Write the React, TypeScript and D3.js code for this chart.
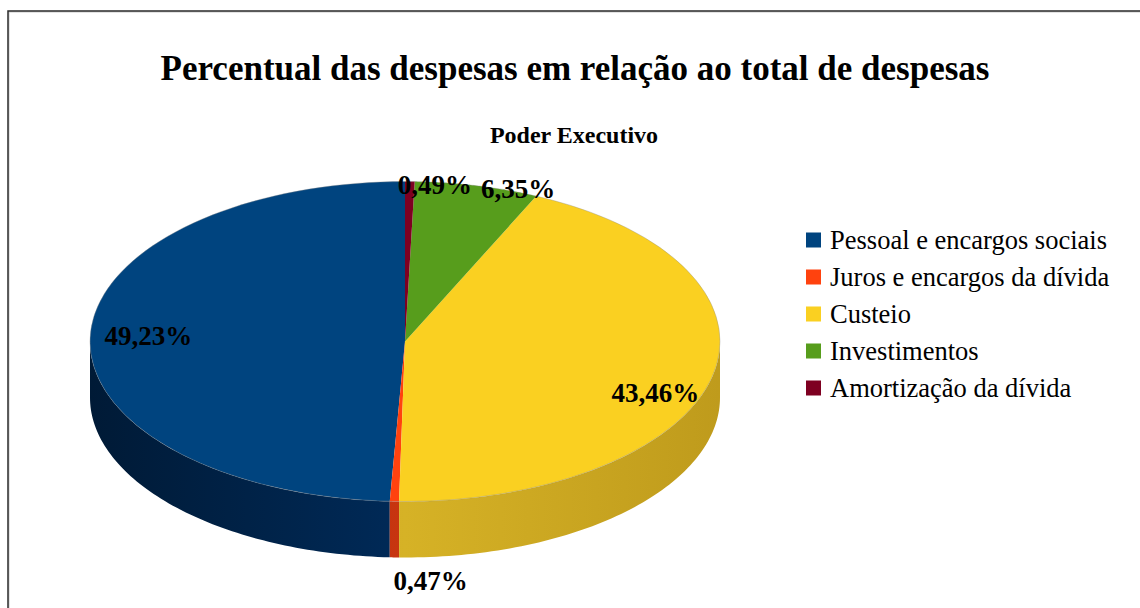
import React from "react";
import * as d3 from "d3";

const categories = [
  "Pessoal e encargos sociais",
  "Juros e encargos da dívida",
  "Custeio",
  "Investimentos",
  "Amortização da dívida",
];
const values = [49.23, 0.47, 43.46, 6.35, 0.49];
const labels = ["49,23%", "0,47%", "43,46%", "6,35%", "0,49%"];
const topColors = ["#00447f", "#ff420e", "#fad021", "#579d1c", "#7e0021"];
const sideDark = ["#001a36", "#a02808", "#bf9b1c", "#3a6a12", "#4e0014"];
const sideLight = ["#002a58", "#c83510", "#d6b226", "#4a8418", "#62001a"];

const W = 1140;
const H = 608;
const cx = 405;
const cy = 341.5;
const rx = 315;
const ry = 160;
const depth = 56;

function pt(a: number, dy = 0): [number, number] {
  return [cx + rx * Math.sin(a), cy - ry * Math.cos(a) + dy];
}

function arcPath(a0: number, a1: number, dy = 0, n = 80): string {
  const pts: string[] = [];
  for (let i = 0; i <= n; i++) {
    const a = a0 + ((a1 - a0) * i) / n;
    const [x, y] = pt(a, dy);
    pts.push(`${x.toFixed(2)},${y.toFixed(2)}`);
  }
  return pts.join(" L");
}

export default function App() {
  const pie = d3
    .pie<number>()
    .sort(null)
    .startAngle(0)
    .endAngle(-2 * Math.PI)
    .value((d) => d);
  const arcs = pie(values);

  const sides = arcs
    .map((s, i) => {
      const lo = Math.max(Math.min(s.startAngle, s.endAngle), -1.5 * Math.PI);
      const hi = Math.min(Math.max(s.startAngle, s.endAngle), -0.5 * Math.PI);
      if (hi <= lo) return null;
      const d = `M${arcPath(lo, hi)} L${arcPath(hi, lo, depth)} Z`;
      return { d, i };
    })
    .filter(Boolean) as { d: string; i: number }[];

  const tops = arcs.map((s, i) => {
    const d = `M${cx},${cy} L${arcPath(s.startAngle, s.endAngle)} Z`;
    return { d, i };
  });

  const total = d3.sum(values);
  const labelItems = arcs.map((s, i) => {
    const mid = (s.startAngle + s.endAngle) / 2;
    const frac = values[i] / total;
    if (frac > 0.1) {
      const x = cx + rx * 0.815 * Math.sin(mid);
      const y = cy - ry * 1.45 * Math.cos(mid);
      return { x, y: y + 9, anchor: "middle", text: labels[i] };
    }
    const c = Math.cos(mid);
    const [ax, ay] = pt(mid, c < 0 ? depth : 0);
    if (c < 0) {
      return { x: ax - 1, y: ay + 33, anchor: "start", text: labels[i] };
    }
    const shift = Math.abs(Math.sin(mid)) < 0.05 ? -12 : 4;
    return { x: ax + shift, y: ay + 12, anchor: "start", text: labels[i] };
  });

  const legendX = 806;
  const legendY0 = 240;
  const legendStep = 37;

  return (
    <svg
      width={W}
      height={H}
      style={{ position: "absolute", left: 0, top: 0, background: "#fff" }}
      fontFamily="'Liberation Serif', 'Times New Roman', serif"
    >
      <defs>
        {sides.map(({ i }) => (
          <linearGradient
            key={i}
            id={`side${i}`}
            gradientUnits="userSpaceOnUse"
            x1={cx - rx}
            y1={0}
            x2={cx + rx}
            y2={0}
          >
            <stop offset="0" stopColor={sideDark[i]} />
            <stop offset="0.5" stopColor={sideLight[i]} />
            <stop offset="1" stopColor={sideDark[i]} />
          </linearGradient>
        ))}
      </defs>
      <rect x={0} y={0} width={W} height={H} fill="#fff" />
      <rect x={9} y={12} width={1300} height={800} fill="none" stroke="#c8c8c8" strokeWidth={1} />
      <rect x={8} y={11} width={1300} height={800} fill="none" stroke="#2a2a2a" strokeWidth={1.5} />
      <text x={575} y={80} textAnchor="middle" fontWeight="bold" fontSize={35} fill="#000">
        Percentual das despesas em relação ao total de despesas
      </text>
      <text x={574} y={143} textAnchor="middle" fontWeight="bold" fontSize={24} fill="#000">
        Poder Executivo
      </text>

      <g>
        {sides.map(({ d, i }) => (
          <path key={`s${i}`} d={d} fill={`url(#side${i})`} />
        ))}
        {tops.map(({ d, i }) => (
          <path key={`t${i}`} d={d} fill={topColors[i]} />
        ))}
        <path
          d={`M${arcPath(-Math.PI * 2, 0)}`}
          fill="none"
          stroke="#8a8a8a"
          strokeOpacity={0.35}
          strokeWidth={1}
        />
      </g>

      {labelItems.map((l, i) => (
        <text
          key={`l${i}`}
          x={l.x}
          y={l.y}
          textAnchor={l.anchor as any}
          fontWeight="bold"
          fontSize={27}
          fill="#000"
        >
          {l.text}
        </text>
      ))}

      {categories.map((c, i) => (
        <g key={`lg${i}`}>
          <rect
            x={legendX}
            y={legendY0 + i * legendStep - 7.5}
            width={15}
            height={15}
            fill={topColors[i]}
          />
          <text x={830} y={legendY0 + i * legendStep + 9} fontSize={26.5} fill="#000">
            {c}
          </text>
        </g>
      ))}
    </svg>
  );
}
